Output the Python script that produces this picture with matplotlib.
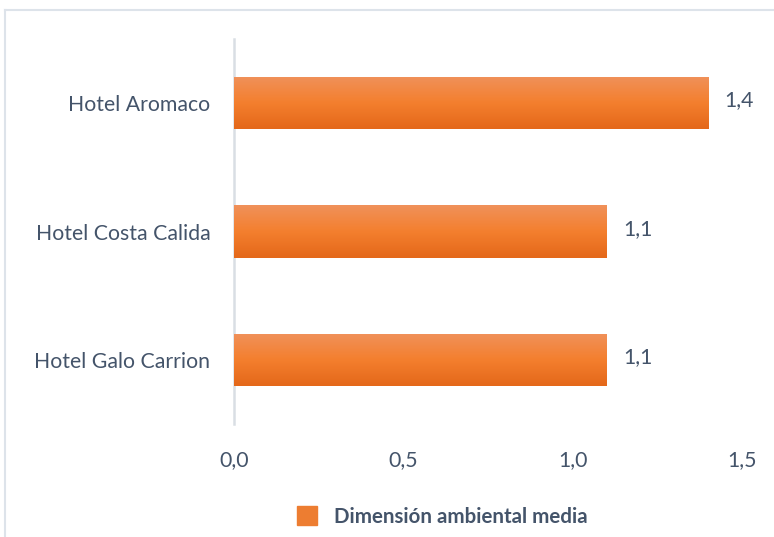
import numpy as np
import matplotlib
matplotlib.use("Agg")
import matplotlib.pyplot as plt
from matplotlib.lines import Line2D
from matplotlib.colors import LinearSegmentedColormap
from matplotlib.patches import Patch

# data
hotels = ["Hotel Galo Carrion", "Hotel Costa Calida", "Hotel Aromaco"]
values = [1.1, 1.1, 1.4]
value_labels = ["1,1", "1,1", "1,4"]
xticks = [0.0, 0.5, 1.0, 1.5]
xtick_labels = ["0,0", "0,5", "1,0", "1,5"]
series_name = "Dimensión ambiental media"

txt_color = "#44546A"
fs = 15.3
plt.rcParams['font.family'] = ['Lato', 'DejaVu Sans']

fig = plt.figure(figsize=(7.74, 5.37), dpi=100)
ax = fig.add_axes([0.3023, 0.2104, 0.6564, 0.717])

ypos = np.arange(len(hotels))
bars = ax.barh(ypos, values, height=0.41, color="#F47F2E", zorder=2)

# vertical gradient on each bar
grad_cmap = LinearSegmentedColormap.from_list("g", ["#E4681A", "#F47F2E", "#F0915A"])
grad = np.linspace(0, 1, 100).reshape(-1, 1)
for b in bars:
    x0, y0 = b.get_x(), b.get_y()
    w, h = b.get_width(), b.get_height()
    im = ax.imshow(grad, cmap=grad_cmap, aspect="auto", origin="lower",
                   extent=[x0, x0 + w, y0, y0 + h], zorder=3)
    im.set_clip_path(b)

for y, v, lab in zip(ypos, values, value_labels):
    ax.text(v + 0.048, y + 0.02, lab, va="center", ha="left", fontsize=fs, color=txt_color)

ax.set_xlim(0, 1.5)
ax.set_ylim(-0.5, 2.5)
ax.set_xticks(xticks)
ax.set_xticklabels(xtick_labels)
ax.set_yticks(ypos)
ax.set_yticklabels(hotels)
ax.tick_params(axis="both", length=0, labelsize=fs, labelcolor=txt_color)
ax.tick_params(axis="x", pad=19)
ax.tick_params(axis="y", pad=17)
for s in ["top", "right", "bottom"]:
    ax.spines[s].set_visible(False)
ax.spines["left"].set_color("#D9DEE4")
ax.spines["left"].set_linewidth(1.8)
ax.patch.set_alpha(0)

# legend
leg = fig.legend(handles=[Patch(facecolor="#ED7D31", edgecolor="#ED7D31", label=series_name)],
                 loc="center", bbox_to_anchor=(0.571, 0.038), frameon=False,
                 handlelength=1.0, handleheight=1.0, handletextpad=0.8,
                 prop={"size": 14.8, "weight": "bold"})
for t in leg.get_texts():
    t.set_color(txt_color)

# outer frame (top and left)
fig.add_artist(Line2D([0.007, 1.0], [0.9814, 0.9814], color="#DDE3EA", lw=1.5))
fig.add_artist(Line2D([0.007, 0.007], [0.0, 0.9814], color="#DDE3EA", lw=1.5))

fig.savefig("out.png", dpi=100)
